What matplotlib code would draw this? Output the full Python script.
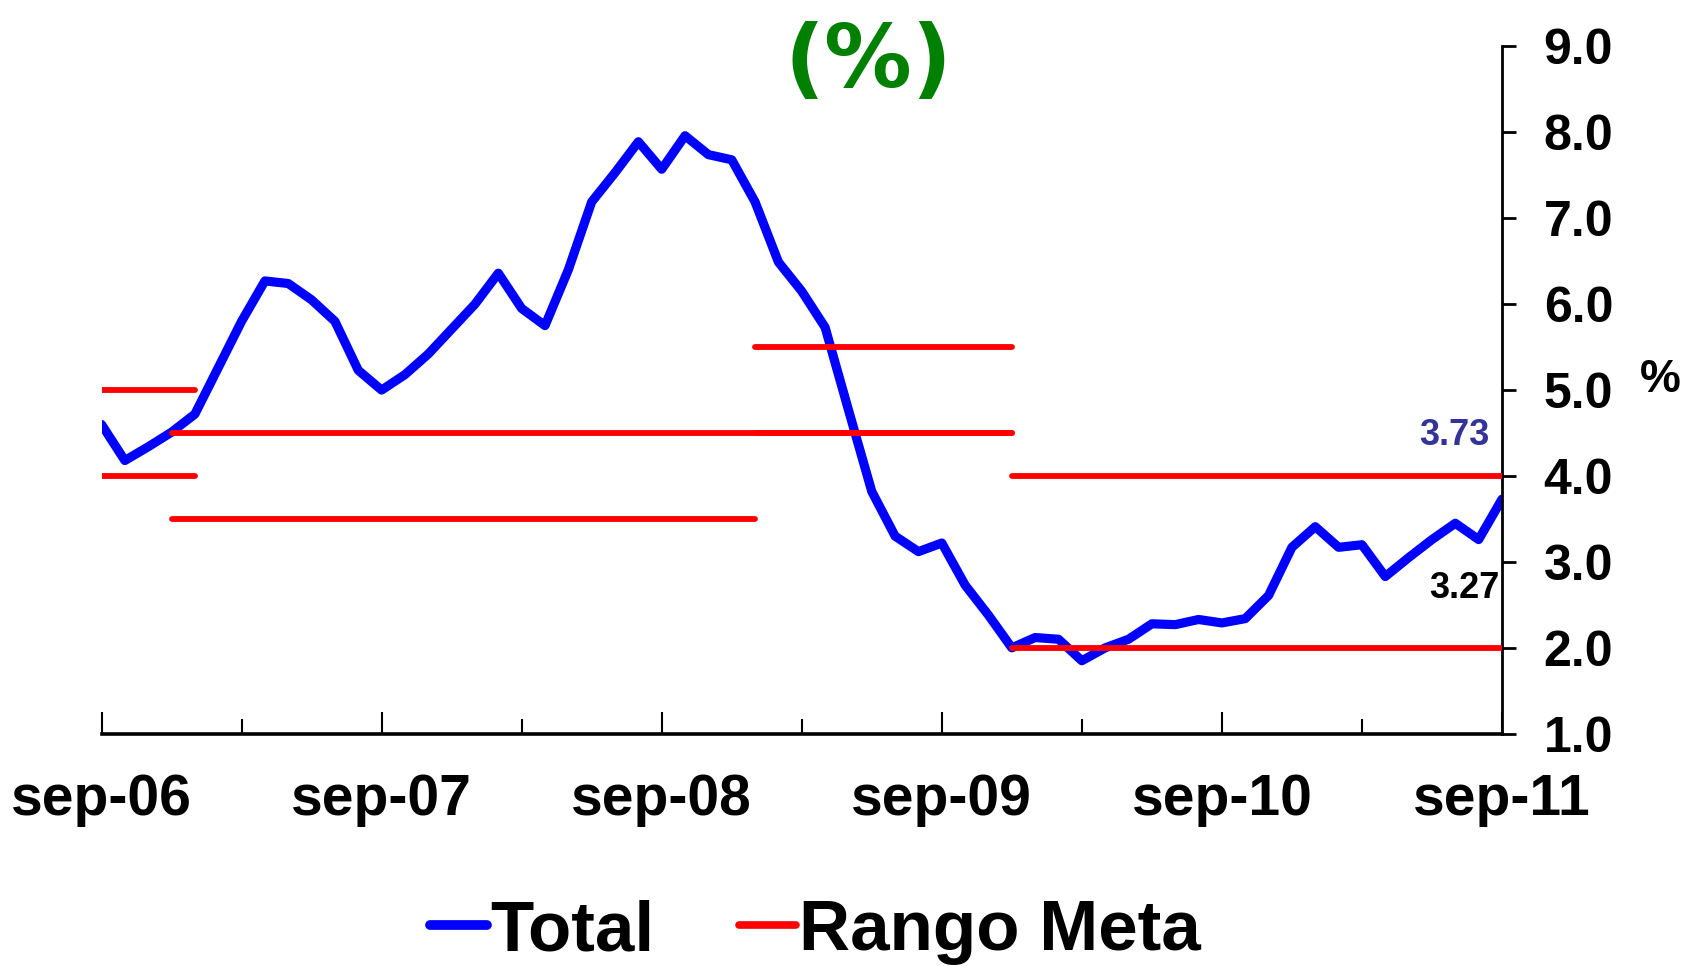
import matplotlib
matplotlib.use('Agg')
import matplotlib.pyplot as plt
from matplotlib.lines import Line2D

# Monthly inflation, sep-06 .. sep-11 (61 months)
total = [4.60, 4.18, 4.34, 4.51, 4.72, 5.26, 5.80, 6.27, 6.24, 6.05, 5.80, 5.23,
         5.00, 5.18, 5.42, 5.71, 6.00, 6.36, 5.95, 5.75, 6.40, 7.19, 7.53, 7.89,
         7.57, 7.96, 7.74, 7.68, 7.19, 6.49, 6.15, 5.73, 4.77, 3.82, 3.30, 3.12,
         3.22, 2.73, 2.38, 2.00, 2.12, 2.10, 1.85, 2.00, 2.10, 2.28, 2.27, 2.33,
         2.29, 2.34, 2.61, 3.17, 3.41, 3.17, 3.20, 2.83, 3.05, 3.26, 3.45, 3.26,
         3.73]

# Target range segments (month index start, end, level)
meta_start = [-1, -1, 3, 3, 28, 28, 39, 39]
meta_end = [4, 4, 39, 28, 39, 39, 61, 61]
meta_level = [5.0, 4.0, 4.5, 3.5, 5.5, 4.5, 4.0, 2.0]

tick_pos = [0, 12, 24, 36, 48, 60]
tick_labels = ['sep-06', 'sep-07', 'sep-08', 'sep-09', 'sep-10', 'sep-11']
minor_pos = [6, 18, 30, 42, 54]

plt.rcParams['font.family'] = ['Liberation Sans', 'DejaVu Sans']

fig = plt.figure(figsize=(16.92, 9.66), dpi=100)
ax = fig.add_axes([0.060, 0.2404, 0.8277, 0.7116])

months = list(range(len(total)))
ax.plot(months, total, color='#0000ff', linewidth=6.6, solid_joinstyle='round',
        solid_capstyle='round', zorder=2)

for s, e, lv in zip(meta_start, meta_end, meta_level):
    ax.plot([s, e], [lv, lv], color='#ff0000', linewidth=4.2,
            solid_capstyle='round', zorder=3)

ax.set_xlim(0, 60)
ax.set_ylim(1.0, 9.0)

# axes styling
ax.spines['left'].set_visible(False)
ax.spines['top'].set_visible(False)
ax.spines['right'].set_linewidth(2.0)
ax.spines['bottom'].set_linewidth(2.6)

ax.yaxis.tick_right()
ax.set_yticks([1, 2, 3, 4, 5, 6, 7, 8, 9])
ax.set_yticklabels([f'{v:.1f}' for v in range(1, 10)])
ax.tick_params(axis='y', direction='out', length=10, width=2.0, pad=20,
               labelsize=36)
for lab in ax.get_yticklabels():
    lab.set_fontweight('bold')

ax.set_xticks(tick_pos)
ax.set_xticklabels(tick_labels)
ax.set_xticks(minor_pos, minor=True)
ax.tick_params(axis='x', which='major', direction='in', length=16, width=1.5,
               pad=28, labelsize=41)
ax.tick_params(axis='x', which='minor', direction='in', length=11, width=1.5)
for lab in ax.get_xticklabels():
    lab.set_fontweight('bold')

# value labels
ax.text(59.45, 4.47, '3.73', color='#333399', fontsize=26, fontweight='bold',
        ha='right', va='center')
ax.text(59.9, 2.69, '3.27', color='black', fontsize=26, fontweight='bold',
        ha='right', va='center')

fig.text(0.981, 0.607, '%', fontsize=33, fontweight='bold', ha='center',
         va='center')

fig.text(0.513, 0.935, '(%)', color='#008000', fontsize=63, fontweight='bold',
         family='DejaVu Sans', ha='center', va='center')

handles = [Line2D([], [], color='#0000ff', linewidth=7, solid_capstyle='round'),
           Line2D([], [], color='#ff0000', linewidth=5.5, solid_capstyle='round')]
leg = fig.legend(handles, ['Total', 'Rango Meta'], loc='center',
                 bbox_to_anchor=(0.482, 0.035), ncol=2, frameon=False,
                 handlelength=0.8, handletextpad=0.05, columnspacing=1.2,
                 prop={'size': 51, 'weight': 'bold'})

fig.savefig('out.png', dpi=100)
